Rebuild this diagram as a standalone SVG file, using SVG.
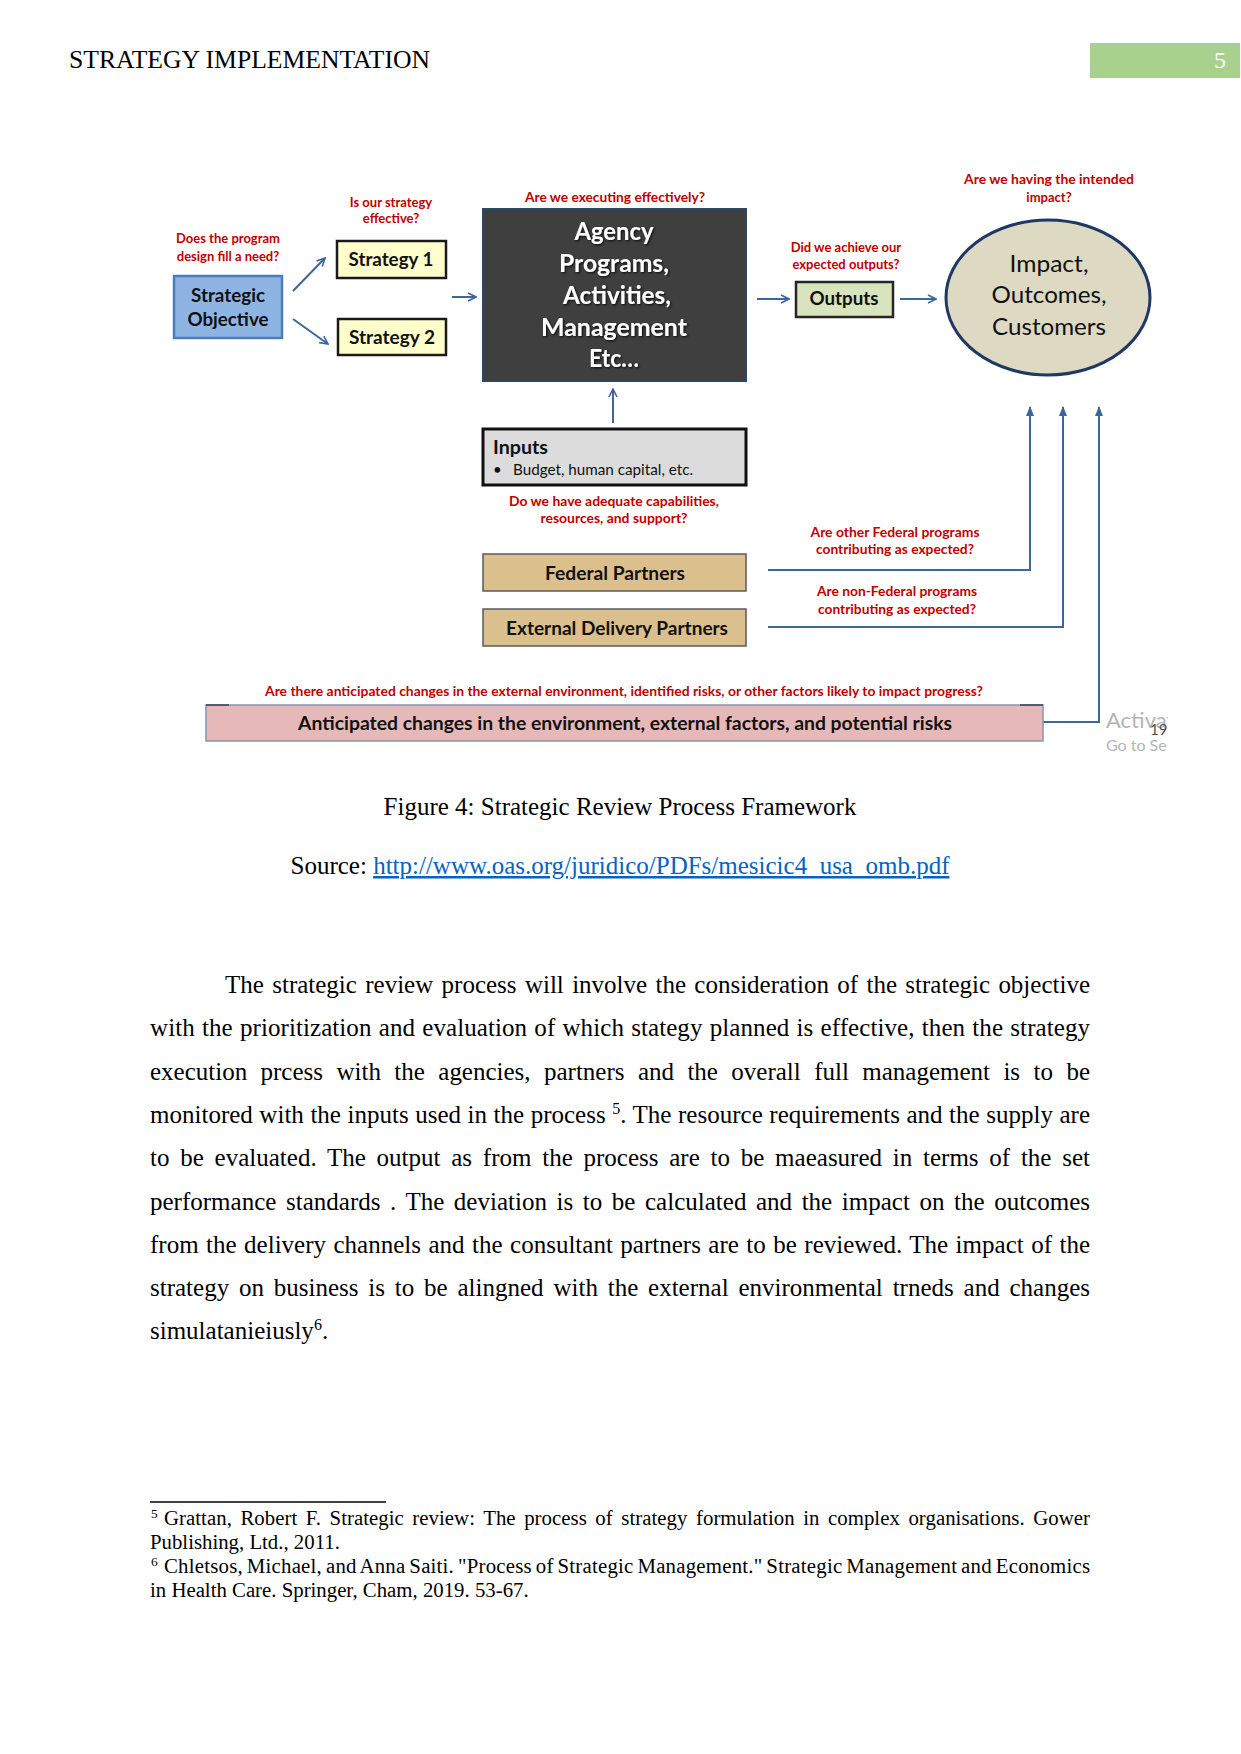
<svg xmlns="http://www.w3.org/2000/svg" width="1241" height="1754" viewBox="0 0 1241 1754">
<style>
.serif{font-family:"Liberation Serif","Times New Roman",serif;fill:#000}
.body{font-size:25px}
.fn{font-size:20.8px}
.d{font-family:Lato,"Open Sans","Liberation Sans",sans-serif}
.q{font-size:13px;font-weight:bold;fill:#c00000;text-anchor:middle}
.lbl{font-weight:bold;fill:#111;text-anchor:middle}
.ag{font-size:24px;font-weight:bold;fill:#fff;text-anchor:middle}
.imp{font-size:24px;fill:#111;text-anchor:middle}
.conn{fill:none;stroke:#3b679a;stroke-width:2}
</style>
<defs>
<marker id="open" viewBox="0 0 10 10" refX="9" refY="5" markerWidth="10" markerHeight="10" markerUnits="userSpaceOnUse" orient="auto">
<path d="M1,1 L9,5 L1,9" fill="none" stroke="#3b679a" stroke-width="1.6"/>
</marker>
<marker id="tri" viewBox="0 0 10 10" refX="9" refY="5" markerWidth="10" markerHeight="10" markerUnits="userSpaceOnUse" orient="auto">
<path d="M0,1 L10,5 L0,9 z" fill="#3b679a"/>
</marker>
<filter id="sh" x="-10%" y="-10%" width="120%" height="130%">
<feDropShadow dx="1.2" dy="1.2" stdDeviation="0.8" flood-color="#000" flood-opacity="0.8"/>
</filter>
<clipPath id="wm"><rect x="1100" y="700" width="68" height="60"/></clipPath>
</defs>

<!-- page header -->
<g id="header">
<text class="serif" x="69" y="68" font-size="25" textLength="361" lengthAdjust="spacingAndGlyphs">STRATEGY IMPLEMENTATION</text>
<rect x="1090" y="43" width="150" height="35" fill="#a9d18e"/>
<text class="serif" x="1220" y="68" font-size="24" text-anchor="middle" style="fill:#fff">5</text>
</g>

<!-- connectors -->
<g id="connectors">
<line class="conn" x1="293" y1="291" x2="325" y2="258" marker-end="url(#open)"/>
<line class="conn" x1="293" y1="319" x2="328" y2="344" marker-end="url(#open)"/>
<line class="conn" x1="452" y1="297" x2="476" y2="297" marker-end="url(#open)"/>
<line class="conn" x1="757" y1="299" x2="789" y2="299" marker-end="url(#open)"/>
<line class="conn" x1="900" y1="299" x2="936" y2="299" marker-end="url(#open)"/>
<line class="conn" x1="613" y1="423" x2="613" y2="389" marker-end="url(#open)"/>
<polyline class="conn" points="768,570 1030,570 1030,407" marker-end="url(#tri)"/>
<polyline class="conn" points="768,627 1063,627 1063,407" marker-end="url(#tri)"/>
<polyline class="conn" points="1043,722 1099,722 1099,407" marker-end="url(#tri)"/>
</g>

<g id="strategic-objective" class="d">
<text class="q" x="228" y="243">Does the program</text>
<text class="q" x="228" y="261">design fill a need?</text>
<rect x="174" y="276" width="108" height="62" fill="#8eb4e3" stroke="#4a7ebb" stroke-width="2.5"/>
<text class="lbl" x="228" y="302" font-size="19" textLength="74" lengthAdjust="spacingAndGlyphs">Strategic</text>
<text class="lbl" x="228" y="326" font-size="19" textLength="81" lengthAdjust="spacingAndGlyphs">Objective</text>
</g>

<g id="strategy-1" class="d">
<text class="q" x="391" y="207">Is our strategy</text>
<text class="q" x="391" y="223">effective?</text>
<rect x="337" y="241" width="109" height="37" fill="#ffffcc" stroke="#1a1a1a" stroke-width="2.5"/>
<text class="lbl" x="391" y="266" font-size="18" textLength="85" lengthAdjust="spacingAndGlyphs">Strategy 1</text>
</g>

<g id="strategy-2" class="d">
<rect x="338" y="319" width="108" height="36" fill="#ffffcc" stroke="#1a1a1a" stroke-width="2.5"/>
<text class="lbl" x="392" y="344" font-size="18" textLength="86" lengthAdjust="spacingAndGlyphs">Strategy 2</text>
</g>

<g id="agency" class="d">
<text class="q" x="615" y="202" textLength="180" lengthAdjust="spacingAndGlyphs">Are we executing effectively?</text>
<rect x="483" y="209" width="263" height="172" fill="#3f3f3f" stroke="#2c4766" stroke-width="2"/>
<g filter="url(#sh)">
<text class="ag" x="614" y="240" textLength="79" lengthAdjust="spacingAndGlyphs">Agency</text>
<text class="ag" x="614" y="272" textLength="110" lengthAdjust="spacingAndGlyphs">Programs,</text>
<text class="ag" x="617" y="304" textLength="108" lengthAdjust="spacingAndGlyphs">Activities,</text>
<text class="ag" x="614" y="336" textLength="146" lengthAdjust="spacingAndGlyphs">Management</text>
<text class="ag" x="614" y="367" textLength="50" lengthAdjust="spacingAndGlyphs">Etc…</text>
</g>
</g>

<g id="outputs" class="d">
<text class="q" x="846" y="252">Did we achieve our</text>
<text class="q" x="846" y="269">expected outputs?</text>
<rect x="796" y="282" width="97" height="35" fill="#d7e4bd" stroke="#262626" stroke-width="2.5"/>
<text class="lbl" x="844" y="305" font-size="18" textLength="69" lengthAdjust="spacingAndGlyphs">Outputs</text>
</g>

<g id="impact" class="d">
<text class="q" x="1049" y="184" textLength="170" lengthAdjust="spacingAndGlyphs">Are we having the intended</text>
<text class="q" x="1049" y="202">impact?</text>
<ellipse cx="1048" cy="297.5" rx="102" ry="77.5" fill="#ddd9c3" stroke="#1f3864" stroke-width="3"/>
<text class="imp" x="1049" y="272" textLength="79" lengthAdjust="spacingAndGlyphs">Impact,</text>
<text class="imp" x="1049" y="303" textLength="115" lengthAdjust="spacingAndGlyphs">Outcomes,</text>
<text class="imp" x="1049" y="335" textLength="114" lengthAdjust="spacingAndGlyphs">Customers</text>
</g>

<g id="inputs" class="d">
<rect x="483" y="429" width="263" height="56" fill="#dcdcdc" stroke="#111" stroke-width="3"/>
<text x="493" y="454" font-size="19" font-weight="bold" fill="#111" textLength="55" lengthAdjust="spacingAndGlyphs">Inputs</text>
<text x="493" y="475" font-size="15" fill="#111">•</text>
<text x="513" y="475" font-size="15" fill="#111" textLength="180" lengthAdjust="spacingAndGlyphs">Budget, human capital, etc.</text>
<text class="q" x="614" y="506" textLength="210" lengthAdjust="spacingAndGlyphs">Do we have adequate capabilities,</text>
<text class="q" x="614" y="523" textLength="147" lengthAdjust="spacingAndGlyphs">resources, and support?</text>
</g>

<g id="federal-partners" class="d">
<rect x="483" y="554" width="263" height="37" fill="#dbbf8d" stroke="#595959" stroke-width="1.5"/>
<text class="lbl" x="615" y="580" font-size="18" textLength="140" lengthAdjust="spacingAndGlyphs">Federal Partners</text>
<text class="q" x="895" y="537" textLength="169" lengthAdjust="spacingAndGlyphs">Are other Federal programs</text>
<text class="q" x="895" y="554" textLength="158" lengthAdjust="spacingAndGlyphs">contributing as expected?</text>
</g>

<g id="external-delivery-partners" class="d">
<rect x="483" y="609" width="263" height="37" fill="#dbbf8d" stroke="#595959" stroke-width="1.5"/>
<text class="lbl" x="617" y="635" font-size="18" textLength="222" lengthAdjust="spacingAndGlyphs">External Delivery Partners</text>
<text class="q" x="897" y="596" textLength="160" lengthAdjust="spacingAndGlyphs">Are non-Federal programs</text>
<text class="q" x="897" y="614" textLength="158" lengthAdjust="spacingAndGlyphs">contributing as expected?</text>
</g>

<g id="anticipated-changes" class="d">
<text x="265" y="696" font-size="12.5" font-weight="bold" fill="#c00000" textLength="718" lengthAdjust="spacingAndGlyphs">Are there anticipated changes in the external environment, identified risks, or other factors likely to impact progress?</text>
<rect x="206" y="705" width="837" height="36" fill="#e6b9b8" stroke="#8496b0" stroke-width="1.5"/>
<line x1="206" y1="705" x2="229" y2="705" stroke="#404050" stroke-width="1.5"/>
<line x1="1020" y1="705" x2="1043" y2="705" stroke="#404050" stroke-width="1.5"/>
<text x="298" y="730" font-size="19" font-weight="bold" fill="#111" textLength="654" lengthAdjust="spacingAndGlyphs">Anticipated changes in the environment, external factors, and potential risks</text>
</g>

<g id="watermark" class="d" clip-path="url(#wm)">
<text x="1106" y="728" font-size="22" fill="#b4b4b4">Activat</text>
<text x="1106" y="751" font-size="16" fill="#b4b4b4">Go to Se</text>
</g>
<text class="d" x="1150" y="735" font-size="15" fill="#505050">19</text>

<!-- caption -->
<g id="caption" class="serif body">
<text x="620" y="815" text-anchor="middle">Figure 4: Strategic Review Process Framework</text>
<text x="620" y="874" text-anchor="middle">Source: <tspan fill="#0563c1" style="fill:#0563c1" text-decoration="underline">http://www.oas.org/juridico/PDFs/mesicic4_usa_omb.pdf</tspan></text>
</g>

<!-- body text -->
<g id="body" class="serif body">
<text x="225" y="993" word-spacing="2.1" textLength="865" lengthAdjust="spacing">The strategic review process will involve the consideration of the strategic objective</text>
<text x="150" y="1036" word-spacing="0.86" textLength="940" lengthAdjust="spacing">with the prioritization and evaluation of which stategy planned is effective, then the strategy</text>
<text x="150" y="1080" word-spacing="7.2" textLength="940" lengthAdjust="spacing">execution prcess with the agencies, partners and the overall full management is to be</text>
<text x="150" y="1123" word-spacing="0.27" textLength="940" lengthAdjust="spacing">monitored with the inputs used in the process <tspan font-size="16" dy="-9">5</tspan><tspan dy="9">. The resource requirements and the supply are</tspan></text>
<text x="150" y="1166" word-spacing="4.5" textLength="940" lengthAdjust="spacing">to be evaluated. The output as from the process are to be maeasured in terms of the set</text>
<text x="150" y="1210" word-spacing="3.3" textLength="940" lengthAdjust="spacing">performance standards . The deviation is to be calculated and the impact on the outcomes</text>
<text x="150" y="1253" word-spacing="1.2" textLength="940" lengthAdjust="spacing">from the delivery channels and the consultant partners are to be reviewed. The impact of the</text>
<text x="150" y="1296" word-spacing="3.57" textLength="940" lengthAdjust="spacing">strategy on business is to be alingned with the external environmental trneds and changes</text>
<text x="150" y="1339">simulatanieiusly<tspan font-size="16" dy="-9">6</tspan><tspan dy="9">.</tspan></text>
</g>

<!-- footnotes -->
<g id="footnotes" class="serif fn">
<line x1="150" y1="1502" x2="386" y2="1502" stroke="#000" stroke-width="1.5"/>
<text x="151" y="1518" font-size="13.5">5</text>
<text x="164" y="1525" word-spacing="3.3" textLength="926" lengthAdjust="spacing">Grattan, Robert F. Strategic review: The process of strategy formulation in complex organisations. Gower</text>
<text x="150" y="1549">Publishing, Ltd., 2011.</text>
<text x="151" y="1566" font-size="13.5">6</text>
<text x="164" y="1573" word-spacing="-1.5" textLength="926" lengthAdjust="spacing">Chletsos, Michael, and Anna Saiti. "Process of Strategic Management." Strategic Management and Economics</text>
<text x="150" y="1597">in Health Care. Springer, Cham, 2019. 53-67.</text>
</g>
</svg>
